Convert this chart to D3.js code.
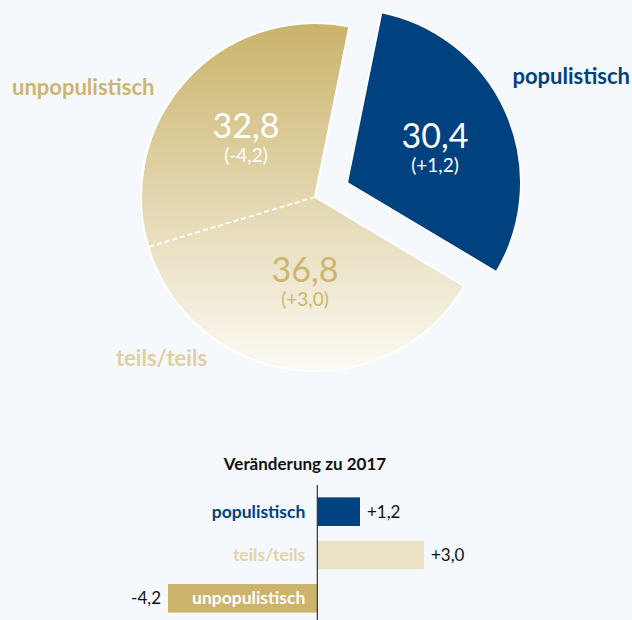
<!DOCTYPE html>
<html>
<head>
<meta charset="utf-8">
<script src="https://cdn.jsdelivr.net/npm/d3@7"></script>
<style>
  html, body { margin: 0; padding: 0; background: #f5f8fc; }
  svg { display: block; font-family: Lato, "Noto Sans", sans-serif; }
</style>
</head>
<body>
<svg id="chart" width="632" height="620"></svg>
<script>
// shares (pie) and change since 2017 (bars)
const categories = ["populistisch", "teils/teils", "unpopulistisch"];
const shares = [30.4, 36.8, 32.8];
const changes = [1.2, 3.0, -4.2];
const shareLabels = ["30,4", "36,8", "32,8"];
const changeLabels = ["+1,2", "+3,0", "-4,2"];

const fmtChange = (v) => (v > 0 ? "+" : "") + String(v.toFixed(1)).replace(".", ",");

const svg = d3.select("#chart");
const cx = 315, cy = 197, radius = 174;
const startDeg = 11.4;

const defs = svg.append("defs");
const grad = defs.append("linearGradient")
  .attr("id", "goldGrad")
  .attr("gradientUnits", "userSpaceOnUse")
  .attr("x1", 0).attr("y1", -radius).attr("x2", 0).attr("y2", radius);
grad.append("stop").attr("offset", "0%").attr("stop-color", "#cab36a");
grad.append("stop").attr("offset", "100%").attr("stop-color", "#fcfaf4");

const pie = d3.pie().sort(null).value((d) => d.value)
  .startAngle(startDeg * Math.PI / 180)
  .endAngle(startDeg * Math.PI / 180 + 2 * Math.PI);
const arcs = pie(categories.map((c, i) => ({ name: c, value: shares[i], i })));
const arc = d3.arc().innerRadius(0).outerRadius(radius);

const g = svg.append("g").attr("transform", `translate(${cx},${cy})`);
const explode = 35;
const offset = (d) => {
  if (d.data.i !== 0) return [0, 0];
  const a = (d.startAngle + d.endAngle) / 2;
  return [Math.sin(a) * explode, -Math.cos(a) * explode];
};

g.selectAll("path.slice").data(arcs).enter().append("path")
  .attr("class", "slice")
  .attr("transform", (d) => `translate(${offset(d)})`)
  .attr("d", arc)
  .attr("fill", (d) => d.data.i === 0 ? "#00427f" : "url(#goldGrad)")
  .attr("stroke", "#ffffff")
  .attr("stroke-width", 2)
  .attr("stroke-linejoin", "round");

// dashed separator between teils/teils and unpopulistisch
const sepAngle = arcs[2].startAngle;
const sx = Math.sin(sepAngle) * (radius - 1.5), sy = -Math.cos(sepAngle) * (radius - 1.5);
g.append("line")
  .attr("x1", 0).attr("y1", 0).attr("x2", sx).attr("y2", sy)
  .attr("stroke", "url(#goldGrad)").attr("stroke-width", 3);
g.append("line")
  .attr("x1", 0).attr("y1", 0).attr("x2", sx).attr("y2", sy)
  .attr("stroke", "#ffffff").attr("stroke-width", 1.8).attr("stroke-dasharray", "5,3");

// value labels inside the slices
const labelPos = [[435 - cx, 148 - cy], [305 - cx, 282 - cy], [246 - cx, 138 - cy]];
const valueColor = ["#ffffff", "#cdb56e", "#ffffff"];
arcs.forEach((d) => {
  const i = d.data.i;
  const [x, y] = labelPos[i];
  g.append("text").attr("x", x).attr("y", y).attr("text-anchor", "middle")
    .attr("font-size", 34).attr("fill", valueColor[i]).text(shareLabels[i]);
  g.append("text").attr("x", x).attr("y", y + 24).attr("text-anchor", "middle")
    .attr("font-size", 19).attr("fill", valueColor[i]).text(`(${changeLabels[i]})`);
});

// outer category labels
const outer = [
  { text: categories[0], x: 630, y: 84, anchor: "end", color: "#00427f" },
  { text: categories[1], x: 116, y: 366, anchor: "start", color: "#e0cfa0" },
  { text: categories[2], x: 12, y: 95, anchor: "start", color: "#cdb56e" }
];
outer.forEach((o) => {
  svg.append("text").attr("x", o.x).attr("y", o.y).attr("text-anchor", o.anchor)
    .attr("font-size", 22).attr("font-weight", "bold").attr("fill", o.color).text(o.text);
});

// bar chart: change since 2017
svg.append("text").attr("x", 305).attr("y", 470).attr("text-anchor", "middle")
  .attr("font-size", 17).attr("font-weight", "bold").attr("fill", "#111").text("Veränderung zu 2017");

const x = d3.scaleLinear().domain([-4.2, 3.0]).range([168, 424]);
const y = d3.scaleBand().domain(categories).range([490, 620]).paddingInner(0.34).paddingOuter(0.17);
const barColor = ["#00427f", "#ebe1c4", "#ccb46b"];
const nameColor = ["#00427f", "#e3d4a8", "#ffffff"];

svg.selectAll("rect.bar").data(changes).enter().append("rect")
  .attr("class", "bar")
  .attr("x", (d) => x(Math.min(0, d)))
  .attr("width", (d) => Math.abs(x(d) - x(0)))
  .attr("y", (d, i) => y(categories[i]))
  .attr("height", y.bandwidth())
  .attr("fill", (d, i) => barColor[i]);

svg.append("line").attr("x1", x(0)).attr("x2", x(0)).attr("y1", 485).attr("y2", 620)
  .attr("stroke", "#333").attr("stroke-width", 1.2);

categories.forEach((c, i) => {
  const yc = y(c) + y.bandwidth() / 2 + 6;
  svg.append("text").attr("x", x(0) - 12).attr("y", yc).attr("text-anchor", "end")
    .attr("font-size", 17.5).attr("font-weight", "bold").attr("fill", nameColor[i]).text(c);
  const v = changes[i];
  svg.append("text")
    .attr("x", v >= 0 ? x(v) + 7 : x(v) - 7)
    .attr("y", yc)
    .attr("text-anchor", v >= 0 ? "start" : "end")
    .attr("font-size", 17).attr("fill", "#111").text(fmtChange(v));
});
</script>
</body>
</html>
